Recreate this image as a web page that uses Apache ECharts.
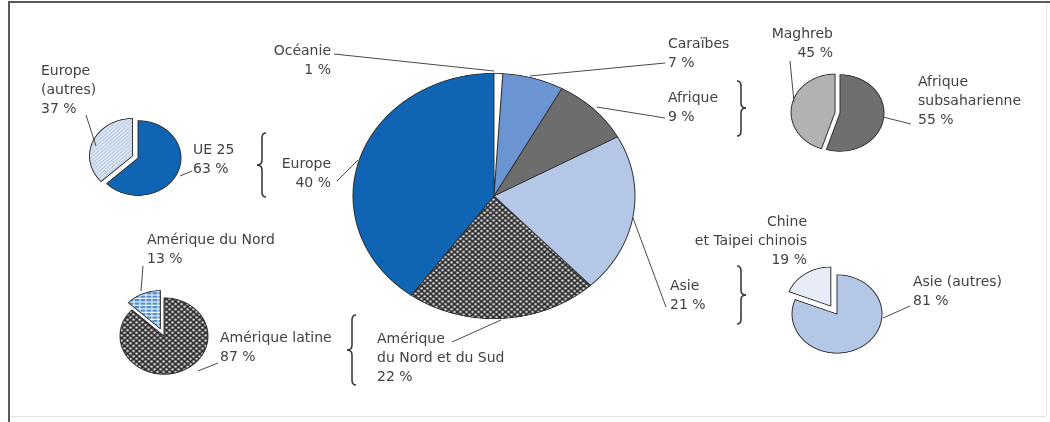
<!DOCTYPE html>
<html>
<head>
<meta charset="utf-8">
<script src="https://cdn.jsdelivr.net/npm/echarts@6/dist/echarts.min.js"></script>
<style>
  html, body { margin: 0; padding: 0; background: #fff; }
  #cadre { position: relative; width: 1050px; height: 422px; overflow: hidden; background: #fff; }
  #secteurs { position: absolute; left: 0; top: 0; width: 1050px; transform-origin: 0 0; }
  #notes { position: absolute; left: 0; top: 0; width: 1050px; height: 422px; }
</style>
</head>
<body>
<div id="cadre">
  <div id="secteurs"></div>
  <div id="notes"></div>
</div>
<script>
// Répartition par région (en %)
const mondeNoms = ['Océanie', 'Caraïbes', 'Afrique', 'Asie', 'Amérique\ndu Nord et du Sud', 'Europe'];
const mondeValeurs = [1, 7, 9, 21, 22, 40];

const europeNoms = ['UE 25', 'Europe\n(autres)'];
const europeValeurs = [63, 37];

const afriqueNoms = ['Afrique\nsubsaharienne', 'Maghreb'];
const afriqueValeurs = [55, 45];

const asieNoms = ['Asie (autres)', 'Chine\net Taipei chinois'];
const asieValeurs = [81, 19];

const ameriqueNoms = ['Amérique latine', 'Amérique du Nord'];
const ameriqueValeurs = [87, 13];

// Les camemberts sont légèrement aplatis : le calque des secteurs est écrasé verticalement.
const K = 0.87;
const H = 422;

function motif(w, h, dessin) {
  const c = document.createElement('canvas');
  c.width = w; c.height = h;
  dessin(c.getContext('2d'));
  return { image: c, repeat: 'repeat' };
}

// Trame pointillée (Amériques)
const pointille = motif(6, 6, g => {
  g.fillStyle = '#2c2c2c'; g.fillRect(0, 0, 6, 6);
  g.fillStyle = '#f6f6f6';
  [[1.5, 1.5], [4.5, 4.5]].forEach(([x, y]) => { g.beginPath(); g.arc(x, y, 1.25, 0, Math.PI * 2); g.fill(); });
});
// Hachures (Europe autres)
const hachure = motif(4, 4, g => {
  g.fillStyle = '#e2ebf6'; g.fillRect(0, 0, 4, 4);
  g.strokeStyle = '#8ea7c8'; g.lineWidth = 0.9;
  g.beginPath(); g.moveTo(-1, 5); g.lineTo(5, -1); g.moveTo(-1, 1); g.lineTo(1, -1); g.moveTo(3, 5); g.lineTo(5, 3); g.stroke();
});
// Briques bleues (Amérique du Nord)
const briques = motif(6, 4, g => {
  g.fillStyle = '#f2f7fc'; g.fillRect(0, 0, 6, 4);
  g.fillStyle = '#4f90d0'; g.fillRect(0, 0, 5, 2.6);
});

function camembert(noms, valeurs, couleurs, cx, cy, r, decalage, eclates) {
  return {
    type: 'pie',
    center: [cx, cy / K],
    radius: r,
    startAngle: 90,
    clockwise: true,
    selectedMode: 'multiple',
    selectedOffset: decalage,
    avoidLabelOverlap: false,
    label: { show: false },
    labelLine: { show: false },
    emphasis: { disabled: true },
    itemStyle: { borderColor: '#333', borderWidth: 1 },
    data: noms.map((n, i) => ({
      name: n,
      value: valeurs[i],
      selected: eclates.indexOf(i) >= 0,
      itemStyle: { color: couleurs[i] }
    }))
  };
}

const divSecteurs = document.getElementById('secteurs');
divSecteurs.style.height = (H / K) + 'px';
divSecteurs.style.transform = 'scaleY(' + K + ')';

const graphSecteurs = echarts.init(divSecteurs, null, { renderer: 'canvas', devicePixelRatio: 2 });
graphSecteurs.setOption({
  animation: false,
  backgroundColor: 'transparent',
  series: [
    camembert(mondeNoms, mondeValeurs, ['#ffffff', '#6b95d2', '#6d6d6d', '#b4c7e7', pointille, '#0f64b4'], 494, 196, 141, 0, []),
    camembert(europeNoms, europeValeurs, ['#0f64b4', hachure], 138, 158, 43, 6, [1]),
    camembert(afriqueNoms, afriqueValeurs, ['#6f6f6f', '#b2b2b2'], 840, 113, 44, 5, [1]),
    camembert(asieNoms, asieValeurs, ['#b4c7e7', '#e7ecf6'], 837, 314, 45, 11, [1]),
    camembert(ameriqueNoms, ameriqueValeurs, [pointille, briques], 164, 336, 44, 9, [1])
  ]
});

// Calque des annotations : étiquettes, traits de rappel, accolades, cadre
const police = '14px "DejaVu Sans"';
const encre = '#424242';
const interligne = 19;

function etiquette(nom, valeur, x, y, align) {
  return {
    type: 'text',
    silent: true,
    style: {
      text: nom + '\n' + valeur + ' %',
      x: x, y: y - interligne / 2,
      font: police, fill: encre,
      lineHeight: interligne,
      textAlign: align, align: align,
      textVerticalAlign: 'top', verticalAlign: 'top'
    }
  };
}

function trait(x1, y1, x2, y2, couleur, epaisseur) {
  return {
    type: 'line', silent: true,
    shape: { x1, y1, x2, y2 },
    style: { stroke: couleur || '#4a4a4a', lineWidth: epaisseur || 1 }
  };
}

function courbe(x1, y1, cx, cy, x2, y2) {
  return {
    type: 'bezierCurve', silent: true,
    shape: { x1, y1, cpx1: cx, cpy1: cy, x2, y2 },
    style: { stroke: '#3a3a3a', lineWidth: 1.6, fill: null }
  };
}

// Accolade verticale : s = abscisse du dos, sens = -1 pour « { », +1 pour « } »
function accolade(s, y1, y2, ym, sens) {
  const bout = s - 4 * sens;
  const pointe = s + 5 * sens;
  return {
    type: 'group', silent: true,
    children: [
      courbe(bout, y1, s, y1, s, y1 + 5),
      trait(s, y1 + 5, s, ym - 5, '#3a3a3a', 1.6),
      courbe(s, ym - 5, s, ym, pointe, ym),
      courbe(pointe, ym, s, ym, s, ym + 5),
      trait(s, ym + 5, s, y2 - 5, '#3a3a3a', 1.6),
      courbe(s, y2 - 5, s, y2, bout, y2)
    ]
  };
}

const elements = [
  // cadre
  trait(9, 2, 1050, 2, '#5a5a5a', 2),
  trait(9, 1, 9, 422, '#5a5a5a', 2),
  trait(1046.5, 3, 1046.5, 416, '#e4e4e4', 1),
  trait(10, 416.5, 1046, 416.5, '#e4e4e4', 1),

  // camembert principal
  etiquette(mondeNoms[0], mondeValeurs[0], 331, 51, 'right'),
  etiquette(mondeNoms[1], mondeValeurs[1], 668, 44, 'left'),
  etiquette(mondeNoms[2], mondeValeurs[2], 668, 98, 'left'),
  etiquette(mondeNoms[3], mondeValeurs[3], 670, 286, 'left'),
  etiquette(mondeNoms[4], mondeValeurs[4], 377, 339, 'left'),
  etiquette(mondeNoms[5], mondeValeurs[5], 331, 164, 'right'),
  trait(334, 54, 494, 71),
  trait(665, 63, 530, 76),
  trait(665, 118, 597, 107),
  trait(666, 307, 633, 218),
  trait(452, 342, 501, 320),
  trait(337, 181, 358, 160),

  // Europe
  etiquette(europeNoms[0], europeValeurs[0], 193, 150, 'left'),
  etiquette(europeNoms[1], europeValeurs[1], 41, 71, 'left'),
  trait(180, 176, 192, 171),
  trait(86, 115, 96, 146),
  accolade(262, 133, 197, 165, -1),

  // Afrique
  etiquette(afriqueNoms[0], afriqueValeurs[0], 918, 82, 'left'),
  etiquette(afriqueNoms[1], afriqueValeurs[1], 833, 34, 'right'),
  trait(883, 117, 911, 124),
  trait(790, 61, 794, 102),
  accolade(741, 81, 136, 108, 1),

  // Asie
  etiquette(asieNoms[0], asieValeurs[0], 913, 282, 'left'),
  etiquette(asieNoms[1], asieValeurs[1], 807, 222, 'right'),
  trait(883, 318, 910, 306),
  accolade(741, 266, 324, 295, 1),

  // Amériques
  etiquette(ameriqueNoms[0], ameriqueValeurs[0], 220, 338, 'left'),
  etiquette(ameriqueNoms[1], ameriqueValeurs[1], 147, 240, 'left'),
  trait(198, 371, 218, 363),
  trait(143, 266, 141, 291),
  accolade(352, 315, 385, 350, -1)
];

const graphNotes = echarts.init(document.getElementById('notes'), null, { renderer: 'canvas' });
graphNotes.setOption({
  animation: false,
  backgroundColor: 'transparent',
  graphic: { elements: elements }
});
</script>
</body>
</html>
